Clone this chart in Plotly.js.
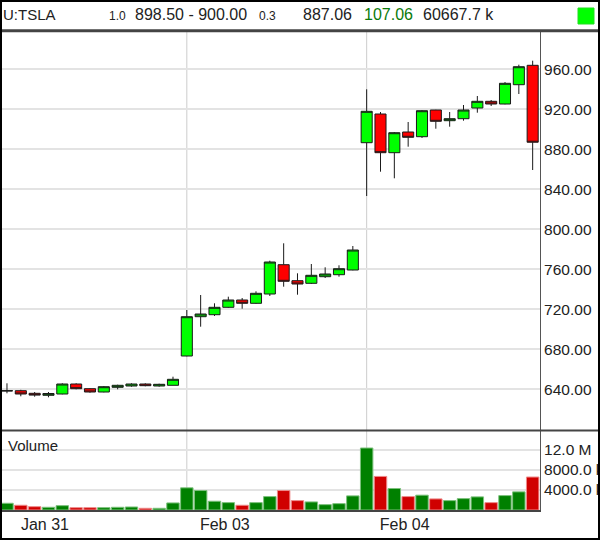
<!DOCTYPE html>
<html><head><meta charset="utf-8">
<script src="https://cdn.plot.ly/plotly-3.0.1.min.js"></script>
<style>
html,body{margin:0;padding:0;background:#fff;}
#wrap{width:600px;height:540px;box-sizing:border-box;border:2px solid #000;overflow:hidden;}
#chart{width:596px;height:536px;}
</style></head><body>
<div id="wrap"><div id="chart"></div></div>
<script>
// ---- data ----
const symbol = 'U:TSLA';
const days = ['Jan 31', 'Feb 03', 'Feb 04'];
const slots = ['09:30','10:00','10:30','11:00','11:30','12:00','12:30','13:00','13:30','14:00','14:30','15:00','15:30'];
const openP  = [638.3,638.6,636.0,634.0,635.3,645.3,640.6,637.3,642.0,643.3,645.3,643.3,644.0,
                673.3,712.6,714.6,722.0,729.3,726.0,735.3,764.6,748.6,746.0,752.6,754.6,759.3,
                886.6,915.3,876.6,897.3,892.6,919.3,908.6,910.6,921.3,928.0,925.3,944.6,964.0];
const highP  = [646.0,639.5,637.3,637.3,646.0,646.0,641.0,643.3,644.6,646.0,646.0,645.6,652.6,
                719.3,734.3,726.0,732.6,731.3,738.0,768.6,786.0,756.0,765.3,762.0,764.0,783.3,
                940.0,917.3,897.3,907.3,919.3,919.5,917.3,924.3,933.3,929.3,947.3,964.6,968.6];
const lowP   = [636.0,633.0,632.6,632.0,635.0,640.0,636.6,637.0,640.0,642.6,643.0,642.6,644.0,
                673.0,702.6,713.3,721.5,720.6,725.5,733.3,742.6,734.6,745.3,751.3,752.6,759.0,
                833.3,857.6,851.0,882.6,891.3,900.6,902.6,908.6,916.6,923.3,925.0,935.3,859.3];
const closeP = [638.6,635.3,634.2,635.8,645.3,640.6,637.3,642.6,644.0,645.3,643.6,645.0,650.0,
                712.6,715.3,722.0,729.3,726.0,736.0,767.3,748.0,745.3,754.0,755.3,760.6,779.3,
                918.0,876.6,896.6,892.0,918.6,908.0,910.6,919.3,928.0,925.3,946.0,962.6,887.06];
const volumeK = [1340,940,660,540,860,460,460,460,540,600,340,340,1400,
                 4400,3860,1740,1460,940,1460,2660,3860,1860,1600,1060,1260,2800,
                 12300,6660,4260,2660,2940,2200,1860,2260,2600,1460,2860,3600,6540];
const priceTicks = [640,680,720,760,800,840,880,920,960];
const volTicks = [4000,8000,12000];
const volTickText = ['4000.0 k','8000.0 k','12.0 M'];
const headerItems = ['1.0','898.50 - 900.00','0.3','887.06','107.06','60667.7 k'];

// ---- build ----
const times = [];
days.forEach(d => slots.forEach(s => times.push(d + ' ' + s)));
const dayStarts = days.map((d, i) => times[i * slots.length]);
const up = closeP.map((c, i) => c >= openP[i]);
const volColors = up.map(u => u ? '#008000' : '#d00000');
const volLines = up.map(u => u ? '#7cc07c' : '#ee8a8a');

const W = 596, H = 536, ML = 0, MR = 58, MT = 30, MB = 28;
const PW = W - ML - MR, PH = H - MT - MB;
const px = x => (x - 2 - ML) / PW;          // reference pixel -> paper x
const py = y => (H - MB - (y - 2)) / PH;    // reference pixel -> paper y
const volTop = py(430);

const FONT = 'Liberation Sans, Arial, sans-serif';

const traces = [
  {
    type: 'candlestick', x: times, open: openP, high: highP, low: lowP, close: closeP,
    xaxis: 'x', yaxis: 'y', whiskerwidth: 0, hoverinfo: 'skip',
    increasing: {fillcolor: '#00ff00', line: {color: '#1a1a1a', width: 1}},
    decreasing: {fillcolor: '#ff0000', line: {color: '#1a1a1a', width: 1}}
  },
  {
    type: 'bar', x: times, y: volumeK, xaxis: 'x', yaxis: 'y2', hoverinfo: 'skip',
    marker: {color: volColors, line: {color: volLines, width: 1}}
  }
];

const shapes = [];
dayStarts.slice(1).forEach(t => shapes.push({
  type: 'line', xref: 'x', yref: 'paper', x0: t, x1: t, y0: 0, y1: 1,
  line: {color: '#cccccc', width: 1}, layer: 'below'
}));
shapes.push({type: 'line', xref: 'paper', yref: 'paper', x0: px(0), x1: px(600), y0: py(30.7), y1: py(30.7), line: {color: '#444', width: 3}});
shapes.push({type: 'line', xref: 'paper', yref: 'paper', x0: px(0), x1: px(600), y0: py(430.6), y1: py(430.6), line: {color: '#444', width: 2}});
shapes.push({type: 'rect', xref: 'paper', yref: 'paper', x0: px(578), x1: px(594), y0: py(24), y1: py(8), fillcolor: '#00ff00', line: {color: '#22dd22', width: 1}});

const hx = [107, 133, 257, 301, 362, 421];
const hs = [12, 16, 12, 16, 16, 16];
const hc = ['#222', '#222', '#222', '#222', '#0a7a0a', '#222'];
const annotations = [
  {text: symbol, xref: 'paper', yref: 'paper', x: px(1), y: py(15), xanchor: 'left', yanchor: 'middle', showarrow: false, font: {size: 15, color: '#222', family: FONT}},
  {text: 'Volume', xref: 'paper', yref: 'paper', x: px(6), y: py(445), xanchor: 'left', yanchor: 'middle', showarrow: false, font: {size: 15, color: '#222', family: FONT}}
];
headerItems.forEach((t, i) => annotations.push({
  text: t, xref: 'paper', yref: 'paper', x: px(hx[i]), y: py(i === 0 || i === 2 ? 16 : 15), xanchor: 'left', yanchor: 'middle',
  showarrow: false, font: {size: hs[i], color: hc[i], family: FONT}
}));

const layout = {
  width: W, height: H, margin: {l: ML, r: MR, t: MT, b: MB, pad: 0},
  paper_bgcolor: '#fff', plot_bgcolor: '#fff', showlegend: false,
  font: {family: FONT, color: '#222', size: 15},
  boxgap: 0.2, boxgroupgap: 0, bargap: 0.1,
  xaxis: {
    type: 'category', range: [-0.36, 38.53], anchor: 'y2',
    tickvals: dayStarts, ticktext: days, ticks: '', showgrid: false, zeroline: false,
    showline: true, linecolor: '#444', linewidth: 2, mirror: false,
    rangeslider: {visible: false}, ticklabelshift: 38, ticklabelstandoff: -1,
    tickfont: {size: 16, color: '#222'}, fixedrange: true
  },
  yaxis: {
    domain: [volTop, 1], range: [599.3, 997.3], side: 'right', anchor: 'x',
    tickvals: priceTicks, tickformat: '.2f', ticks: '', showgrid: true,
    gridcolor: '#e3e3e3', gridwidth: 2, zeroline: false, showline: true,
    linecolor: '#555', linewidth: 1, tickfont: {size: 15.5, color: '#222'}, ticklabelstandoff: 0, fixedrange: true
  },
  yaxis2: {
    domain: [0, volTop], range: [0, 15870], side: 'right', anchor: 'x',
    tickvals: volTicks, ticktext: volTickText, ticks: '', showgrid: true,
    gridcolor: '#e3e3e3', gridwidth: 2, zeroline: false, showline: true,
    linecolor: '#555', linewidth: 1, tickfont: {size: 15.5, color: '#222'}, ticklabelstandoff: 0, fixedrange: true
  },
  shapes: shapes, annotations: annotations
};

Plotly.newPlot('chart', traces, layout, {displayModeBar: false, staticPlot: true});
</script>
</body></html>
